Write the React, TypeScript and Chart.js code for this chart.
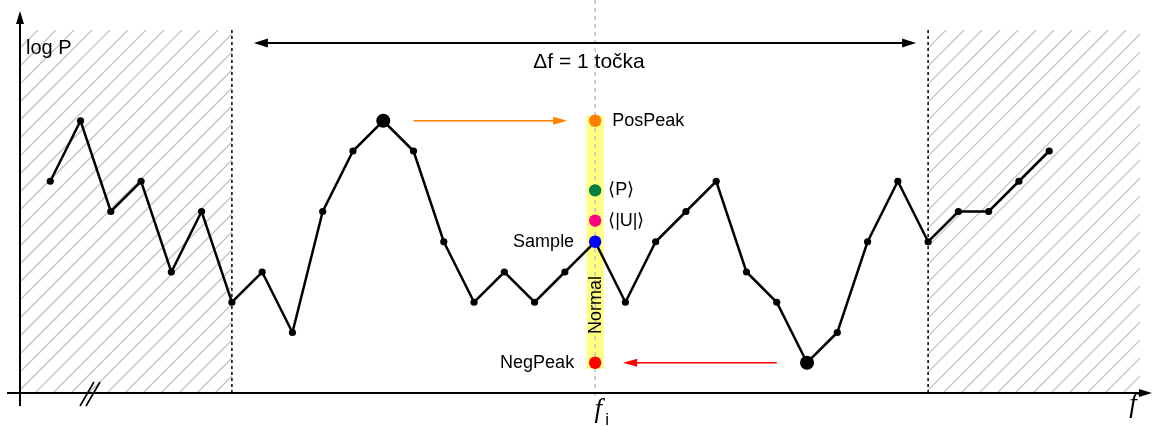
import React, { useEffect, useRef } from "react";
import { Chart, registerables } from "chart.js";
Chart.register(...registerables);

// ---- data ----
const freqIndex = [0, 1, 2, 3, 4, 5, 6, 7, 8, 9, 10, 11, 12, 13, 14, 15, 16, 17, 18, 19, 20, 21, 22, 23, 24, 25, 26, 27, 28, 29, 30, 31, 32, 33];
const logP = [7, 9, 6, 7, 4, 6, 3, 4, 2, 6, 8, 9, 8, 5, 3, 4, 3, 4, 5, 3, 5, 6, 7, 4, 3, 1, 2, 5, 7, 5, 6, 6, 7, 8];
const markerLabels = ["PosPeak", "\u27E8P\u27E9", "\u27E8|U|\u27E9", "Sample", "NegPeak"];
const markerValues = [9, 6.7, 5.7, 5, 1];
const markerColors = ["#ff8000", "#008040", "#ff0080", "#0000ff", "#ff0000"];
const markerSide = ["right", "right", "right", "left", "left"];
const centerIndex = 18;
const windowStart = 6;
const windowEnd = 29;
const posPeakIndex = 11;
const negPeakIndex = 25;
const xMin = -1;
const xMax = 36;
const yMin = 0;
const yMax = 12;
const spanLabel = "\u0394f = 1 to\u010Dka";
const yAxisLabel = "log P";
const bandLabel = "Normal";

const SANS = "'Liberation Sans', Arial, sans-serif";
const SERIF_I = "italic 27px 'Liberation Serif', 'DejaVu Serif', serif";

function arrowHead(ctx: CanvasRenderingContext2D, x: number, y: number, dir: number, len: number, half: number, color: string) {
  ctx.save();
  ctx.translate(x, y);
  ctx.rotate(dir);
  ctx.beginPath();
  ctx.moveTo(0, 0);
  ctx.lineTo(-len, -half);
  ctx.lineTo(-len, half);
  ctx.closePath();
  ctx.fillStyle = color;
  ctx.fill();
  ctx.restore();
}

function textAt(ctx: CanvasRenderingContext2D, s: string, x: number, y: number, align: CanvasTextAlign, rot = 0) {
  ctx.save();
  ctx.translate(x, y);
  if (rot) ctx.rotate(rot);
  ctx.textAlign = align;
  ctx.textBaseline = "middle";
  ctx.fillText(s, 0, 0);
  ctx.restore();
}

const diagramPlugin = {
  id: "diagram",
  beforeDatasetsDraw(chart: any) {
    const { ctx, chartArea } = chart;
    const xs = chart.scales.x;
    const ys = chart.scales.y;
    const X = (v: number) => xs.getPixelForValue(v);
    const Y = (v: number) => ys.getPixelForValue(v);
    const top = Y(yMax);
    const bottom = Y(yMin);

    // hatching
    const hatch = (x0: number, x1: number) => {
      ctx.save();
      ctx.beginPath();
      ctx.rect(x0, top, x1 - x0, bottom - top);
      ctx.clip();
      ctx.strokeStyle = "#c4c4c4";
      ctx.lineWidth = 1.3;
      const h = bottom - top;
      for (let c = -h; c < x1 - x0 + h; c += 18) {
        ctx.beginPath();
        ctx.moveTo(x0 + c, bottom);
        ctx.lineTo(x0 + c + h, top);
        ctx.stroke();
      }
      ctx.restore();
    };
    hatch(X(xMin), X(windowStart));
    hatch(X(windowEnd), X(xMax));

    // dotted window limits
    ctx.save();
    ctx.strokeStyle = "#000";
    ctx.lineWidth = 1.5;
    ctx.setLineDash([3, 3]);
    [windowStart, windowEnd].forEach((v) => {
      ctx.beginPath();
      ctx.moveTo(X(v), top);
      ctx.lineTo(X(v), bottom);
      ctx.stroke();
    });
    ctx.restore();

    // yellow band
    const cx = X(centerIndex);
    ctx.save();
    ctx.fillStyle = "#ffff80";
    const bandTop = Y(markerValues[0]) - 5;
    const bandBot = Y(markerValues[4]) + 6;
    ctx.fillRect(cx - 8.5, bandTop, 17, bandBot - bandTop);
    ctx.restore();

    // center dashed line
    ctx.save();
    ctx.strokeStyle = "#c0c0c0";
    ctx.lineWidth = 1.5;
    ctx.setLineDash([4, 4]);
    ctx.beginPath();
    ctx.moveTo(cx, 0);
    ctx.lineTo(cx, bottom + 5);
    ctx.stroke();
    ctx.restore();

    // axes
    ctx.save();
    ctx.strokeStyle = "#000";
    ctx.lineWidth = 2;
    ctx.beginPath();
    ctx.moveTo(chartArea.left, bottom + 13);
    ctx.lineTo(chartArea.left, top - 10);
    ctx.stroke();
    arrowHead(ctx, chartArea.left, top - 19, -Math.PI / 2, 13, 4, "#000");
    ctx.beginPath();
    ctx.moveTo(7, bottom);
    ctx.lineTo(chartArea.right + 2, bottom);
    ctx.stroke();
    arrowHead(ctx, chartArea.right + 12, bottom, 0, 13, 4, "#000");
    // break marks
    ctx.lineWidth = 1.6;
    ctx.beginPath();
    ctx.moveTo(80, bottom + 13);
    ctx.lineTo(94, bottom - 11);
    ctx.moveTo(86, bottom + 13);
    ctx.lineTo(100, bottom - 11);
    ctx.stroke();
    ctx.restore();

    // double arrow for window width
    const ay = 43;
    const ax0 = X(windowStart) + 22;
    const ax1 = X(windowEnd) - 12;
    ctx.save();
    ctx.strokeStyle = "#000";
    ctx.lineWidth = 2;
    ctx.beginPath();
    ctx.moveTo(ax0 + 8, ay);
    ctx.lineTo(ax1 - 8, ay);
    ctx.stroke();
    arrowHead(ctx, ax0, ay, Math.PI, 14, 4.5, "#000");
    arrowHead(ctx, ax1, ay, 0, 14, 4.5, "#000");
    ctx.fillStyle = "#000";
    ctx.font = `21px ${SANS}`;
    textAt(ctx, spanLabel, 589, 62, "center");
    ctx.restore();

    // orange and red arrows
    const drawArrow = (fromX: number, toX: number, y: number, color: string) => {
      ctx.save();
      ctx.strokeStyle = color;
      ctx.lineWidth = 1.5;
      const dir = toX > fromX ? 1 : -1;
      ctx.beginPath();
      ctx.moveTo(fromX, y);
      ctx.lineTo(toX - dir * 8, y);
      ctx.stroke();
      arrowHead(ctx, toX, y, dir > 0 ? 0 : Math.PI, 14, 4, color);
      ctx.restore();
    };
    drawArrow(X(posPeakIndex + 1), cx - 28, Y(markerValues[0]), markerColors[0]);
    drawArrow(X(negPeakIndex - 1), cx + 28, Y(markerValues[4]), markerColors[4]);

    // texts
    ctx.save();
    ctx.fillStyle = "#000";
    ctx.font = `20px ${SANS}`;
    textAt(ctx, yAxisLabel, chartArea.left + 6, 48, "left");
    ctx.font = `18px ${SANS}`;
    markerLabels.forEach((lab, i) => {
      const y = Y(markerValues[i]);
      if (markerSide[i] === "right") {
        textAt(ctx, lab, cx + (i === 0 ? 17 : 13), y, "left");
      } else {
        textAt(ctx, lab, cx - 21, y, "right");
      }
    });
    // rotated band label
    textAt(ctx, bandLabel, cx + 1, 305, "center", -Math.PI / 2);
    // f_i and f
    ctx.font = SERIF_I;
    ctx.textAlign = "center";
    ctx.textBaseline = "alphabetic";
    ctx.fillText("f", cx + 3, 417);
    ctx.font = `17px ${SANS}`;
    ctx.fillText("i", cx + 12, 425);
    ctx.font = SERIF_I;
    ctx.fillText("f", chartArea.right - 7, 412);
    ctx.restore();
  },
};

export default function App() {
  const ref = useRef<HTMLCanvasElement>(null);
  useEffect(() => {
    if (!ref.current) return;
    const mainData = freqIndex.map((x, i) => ({ x, y: logP[i] }));
    const radii = freqIndex.map((x) => (x === posPeakIndex || x === negPeakIndex ? 7 : 3.6));
    const markerData = markerValues.map((v) => ({ x: centerIndex, y: v }));
    const chart = new Chart(ref.current, {
      type: "line",
      data: {
        datasets: [
          {
            data: markerData,
            showLine: false,
            pointRadius: 6.2,
            pointBorderWidth: 0,
            pointBackgroundColor: markerColors,
            pointBorderColor: markerColors,
            order: 0,
          } as any,
          {
            data: mainData,
            borderColor: "#000",
            borderWidth: 2.5,
            tension: 0,
            pointRadius: radii,
            pointBackgroundColor: "#000",
            pointBorderColor: "#000",
            pointBorderWidth: 0,
            order: 1,
          } as any,
        ],
      },
      options: {
        animation: false,
        responsive: false,
        maintainAspectRatio: false,
        layout: { padding: { left: 20, top: 30, right: 13, bottom: 33 } },
        plugins: { legend: { display: false }, tooltip: { enabled: false } },
        events: [],
        scales: {
          x: { type: "linear", min: xMin, max: xMax, display: false },
          y: { type: "linear", min: yMin, max: yMax, display: false },
        },
      },
      plugins: [diagramPlugin],
    });
    return () => chart.destroy();
  }, []);
  return (
    <div style={{ position: "fixed", left: 0, top: 0, width: 1153, height: 426, background: "#fff" }}>
      <canvas ref={ref} width={1153} height={426} style={{ width: 1153, height: 426, display: "block" }} />
    </div>
  );
}
